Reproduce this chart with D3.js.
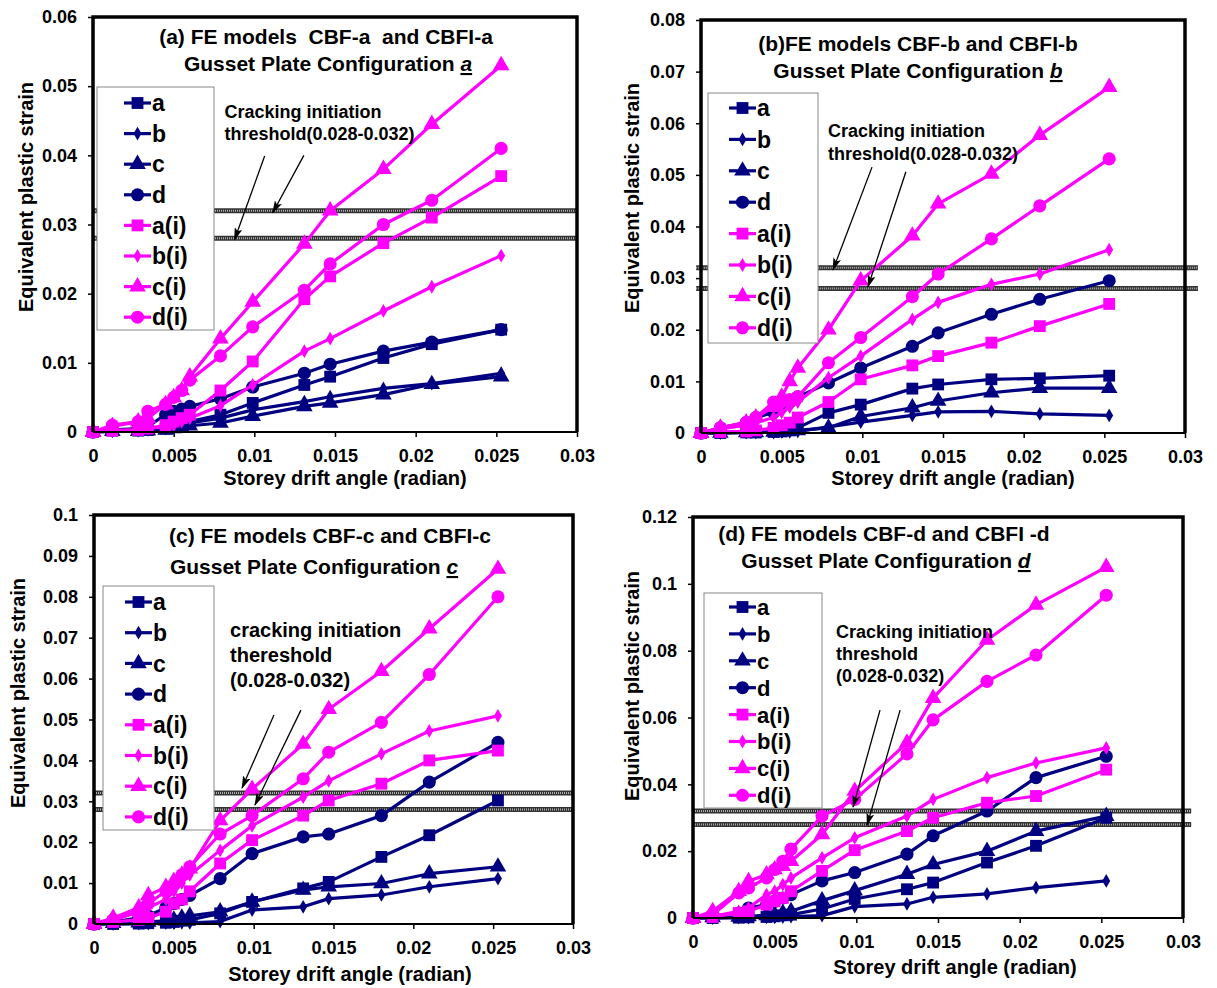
<!DOCTYPE html>
<html>
<head>
<meta charset="utf-8">
<title>Equivalent plastic strain vs storey drift angle</title>
<script src="https://d3js.org/d3.v7.min.js"></script>
<style>
  body { margin: 0; background: #fff; }
  svg { display: block; font-family: Arial, "Liberation Sans", sans-serif; }
</style>
</head>
<body>
<svg id="chart" width="1217" height="988"></svg>
<script>
// storey drift angles (radian) shared by every series
const driftAngles = [0, 0.0012, 0.0028, 0.0034, 0.0045, 0.005, 0.0055, 0.006, 0.0079, 0.0099, 0.0131, 0.0147, 0.018, 0.021, 0.0253];
const seriesNames = ["a", "b", "c", "d", "a(i)", "b(i)", "c(i)", "d(i)"];
const xTicks = [0, 0.005, 0.01, 0.015, 0.02, 0.025, 0.03];
const yTicksA = [0, 0.01, 0.02, 0.03, 0.04, 0.05, 0.06];
const yTicksB = [0, 0.01, 0.02, 0.03, 0.04, 0.05, 0.06, 0.07, 0.08];
const yTicksC = [0, 0.01, 0.02, 0.03, 0.04, 0.05, 0.06, 0.07, 0.08, 0.09, 0.1];
const yTicksD = [0, 0.02, 0.04, 0.06, 0.08, 0.1, 0.12];
const thresholds = [0.028, 0.032];

// equivalent plastic strain, one row per series (a, b, c, d, a(i), b(i), c(i), d(i))
const valuesA = [
  [0, 0.0002, 0.0002, 0.0003, 0.0005, 0.0008, 0.001, 0.0015, 0.0025, 0.0042, 0.0068, 0.008, 0.0107, 0.0127, 0.0148],
  [0, 0.0001, 0.0002, 0.0003, 0.0005, 0.0007, 0.001, 0.0013, 0.002, 0.0032, 0.0044, 0.0051, 0.0063, 0.007, 0.0085],
  [0, 0.0001, 0.0001, 0.0002, 0.0003, 0.0005, 0.0006, 0.0009, 0.0013, 0.0023, 0.0037, 0.0042, 0.0054, 0.0069, 0.008],
  [0, 0.0003, 0.0005, 0.0008, 0.0025, 0.003, 0.0033, 0.0037, 0.0048, 0.0065, 0.0085, 0.0098, 0.0117, 0.013, 0.0148],
  [0, 0.0002, 0.0003, 0.0005, 0.001, 0.0015, 0.002, 0.0025, 0.006, 0.0102, 0.0192, 0.0225, 0.0273, 0.031, 0.037],
  [0, 0.0002, 0.0003, 0.0005, 0.0008, 0.001, 0.0015, 0.002, 0.0038, 0.0068, 0.0117, 0.0135, 0.0175, 0.021, 0.0255],
  [0, 0.0008, 0.0015, 0.002, 0.004, 0.005, 0.006, 0.008, 0.0135, 0.0188, 0.0272, 0.032, 0.038, 0.0445, 0.053],
  [0, 0.001, 0.0015, 0.003, 0.004, 0.005, 0.006, 0.0075, 0.011, 0.0152, 0.0205, 0.0243, 0.03, 0.0335, 0.041]
];
const valuesB = [
  [0, 0, 0.0001, 0.0001, 0.0002, 0.0003, 0.0005, 0.001, 0.0039, 0.0055, 0.0086, 0.0094, 0.0104, 0.0106, 0.0111],
  [0, 0, 0.0001, 0.0001, 0.0001, 0.0002, 0.0002, 0.0003, 0.0012, 0.0021, 0.0034, 0.0041, 0.0042, 0.0037, 0.0034],
  [0, 0, 0.0001, 0.0001, 0.0002, 0.0003, 0.0004, 0.0005, 0.001, 0.0032, 0.0049, 0.0062, 0.0078, 0.0087, 0.0087],
  [0, 0.001, 0.002, 0.003, 0.004, 0.005, 0.006, 0.007, 0.0097, 0.0126, 0.0168, 0.0194, 0.023, 0.0259, 0.0295],
  [0, 0.0002, 0.0003, 0.0005, 0.001, 0.0015, 0.002, 0.003, 0.006, 0.0104, 0.0131, 0.0149, 0.0175, 0.0207, 0.025],
  [0, 0.0008, 0.0015, 0.002, 0.003, 0.004, 0.005, 0.006, 0.0107, 0.0149, 0.022, 0.0253, 0.0288, 0.0308, 0.0355],
  [0, 0.001, 0.002, 0.003, 0.005, 0.007, 0.01, 0.0126, 0.02, 0.0295, 0.0382, 0.0444, 0.0502, 0.0577, 0.067],
  [0, 0.001, 0.002, 0.003, 0.006, 0.006, 0.0065, 0.007, 0.0136, 0.0185, 0.0264, 0.0308, 0.0376, 0.044, 0.0531]
];
const valuesC = [
  [0, 0, 0.0001, 0.0002, 0.0003, 0.0005, 0.0008, 0.001, 0.0026, 0.0054, 0.0087, 0.0103, 0.0164, 0.0217, 0.0302],
  [0, 0, 0.0001, 0.0001, 0.0002, 0.0002, 0.0003, 0.0003, 0.0006, 0.0034, 0.0042, 0.0062, 0.0071, 0.0091, 0.0111],
  [0, 0.0002, 0.0003, 0.0005, 0.0008, 0.001, 0.0015, 0.002, 0.003, 0.0054, 0.0083, 0.0091, 0.0099, 0.0123, 0.014],
  [0, 0.0005, 0.0015, 0.002, 0.004, 0.005, 0.006, 0.007, 0.0111, 0.0172, 0.0213, 0.022, 0.0265, 0.0347, 0.0444],
  [0, 0.0005, 0.001, 0.0015, 0.003, 0.005, 0.006, 0.008, 0.0148, 0.0205, 0.0265, 0.0302, 0.0343, 0.04, 0.0424],
  [0, 0.001, 0.003, 0.004, 0.006, 0.008, 0.01, 0.012, 0.018, 0.024, 0.031, 0.035, 0.0416, 0.0472, 0.0509],
  [0, 0.0015, 0.004, 0.007, 0.009, 0.0105, 0.012, 0.0135, 0.0253, 0.033, 0.044, 0.0525, 0.0618, 0.0722, 0.0868],
  [0, 0.001, 0.003, 0.005, 0.008, 0.0095, 0.012, 0.014, 0.022, 0.0265, 0.0355, 0.042, 0.0493, 0.061, 0.08]
];
const valuesD = [
  [0, 0, 0.0001, 0.0002, 0.0003, 0.0005, 0.0008, 0.001, 0.0027, 0.0057, 0.0086, 0.0106, 0.0166, 0.0216, 0.03],
  [0, 0, 0.0001, 0.0001, 0.0002, 0.0002, 0.0003, 0.0004, 0.0007, 0.0034, 0.0042, 0.0062, 0.0072, 0.0091, 0.0111],
  [0, 0.0002, 0.0003, 0.0005, 0.0008, 0.001, 0.0015, 0.002, 0.0052, 0.0082, 0.0131, 0.016, 0.02, 0.026, 0.0305],
  [0, 0.0005, 0.0015, 0.003, 0.004, 0.005, 0.006, 0.007, 0.0111, 0.0136, 0.0191, 0.0246, 0.032, 0.042, 0.0484],
  [0, 0.0003, 0.0015, 0.002, 0.004, 0.005, 0.006, 0.008, 0.0141, 0.0203, 0.026, 0.03, 0.0345, 0.0365, 0.0444],
  [0, 0.0005, 0.002, 0.003, 0.007, 0.008, 0.01, 0.012, 0.018, 0.024, 0.0305, 0.0355, 0.042, 0.0464, 0.0509],
  [0, 0.002, 0.008, 0.011, 0.013, 0.0145, 0.0155, 0.017, 0.025, 0.038, 0.0524, 0.0658, 0.0832, 0.0937, 0.105],
  [0, 0.001, 0.0075, 0.009, 0.012, 0.0145, 0.017, 0.0206, 0.0305, 0.0355, 0.0491, 0.0593, 0.0708, 0.0787, 0.0966]
];

const NAVY = "#000080", MAGENTA = "#ff00ff";
const colors = [NAVY, NAVY, NAVY, NAVY, MAGENTA, MAGENTA, MAGENTA, MAGENTA];
const shapes = [d3.symbolSquare, d3.symbolDiamond, d3.symbolTriangle, d3.symbolCircle];
const shapeSize = [140, 55, 120, 135];

const panels = [
  { values: valuesA, yTicks: yTicksA, box: { l: 93, r: 577, t: 17, b: 432 },
    title: ["(a) FE models  CBF-a  and CBFI-a", "Gusset Plate Configuration ", "a"], titleX: [326, 328], titleY: [44, 71],
    note: ["Cracking initiation", "threshold(0.028-0.032)"], noteAt: [0.00815, 0.0454], noteStep: 22, noteSize: 18,
    arrows: [[0.01064, 0.0399, 0.00877, 0.0278], [0.01307, 0.040, 0.01114, 0.0317]],
    threshX: [0, 0.03],
    legend: { x: 97, y: 87, w: 117, h: 243, lx: 124, row0: 103, step: 30.6, size: 23 },
    yLabel: [26, 197], xLabel: [345, 485] },
  { values: valuesB, yTicks: yTicksB, box: { l: 701, r: 1185, t: 20, b: 433 },
    title: ["(b)FE models CBF-b and CBFI-b", "Gusset Plate Configuration ", "b"], titleX: [918, 918], titleY: [51, 78],
    note: ["Cracking initiation", "threshold(0.028-0.032)"], noteAt: [0.00787, 0.0573], noteStep: 23, noteSize: 18,
    arrows: [[0.0106, 0.0515, 0.00818, 0.0316], [0.0127, 0.0506, 0.01035, 0.0283]],
    threshX: [-0.0003, 0.0308],
    legend: { x: 708, y: 93, w: 110, h: 250, lx: 729, row0: 108, step: 31.4, size: 23 },
    yLabel: [632, 198], xLabel: [953, 485] },
  { values: valuesC, yTicks: yTicksC, box: { l: 94, r: 573, t: 515, b: 924 },
    title: ["(c) FE models CBF-c and CBFI-c", "Gusset Plate Configuration ", "c"], titleX: [330, 314], titleY: [543, 574],
    note: ["cracking initiation", "thereshold", "(0.028-0.032)"], noteAt: [0.00852, 0.0702], noteStep: 25, noteSize: 20,
    arrows: [[0.01127, 0.0511, 0.00927, 0.03325], [0.01296, 0.0523, 0.01008, 0.0291]],
    threshX: [0, 0.03],
    legend: { x: 103, y: 586, w: 111, h: 244, lx: 125, row0: 602, step: 30.7, size: 23 },
    yLabel: [18, 693], xLabel: [350, 981] },
  { values: valuesD, yTicks: yTicksD, box: { l: 693, r: 1183, t: 517, b: 918 },
    title: ["(d) FE models CBF-d and CBFI -d", "Gusset Plate Configuration ", "d"], titleX: [884, 886], titleY: [541, 568],
    note: ["Cracking initiation", "threshold", "(0.028-0.032)"], noteAt: [0.00876, 0.0838], noteStep: 22, noteSize: 18,
    arrows: [[0.01145, 0.0622, 0.0098, 0.0332], [0.01268, 0.0622, 0.01066, 0.0278]],
    threshX: [0, 0.0305],
    legend: { x: 704, y: 593, w: 118, h: 215, lx: 729, row0: 607, step: 26.9, size: 22 },
    yLabel: [632, 686], xLabel: [955, 974] }
];

const svg = d3.select("#chart");
svg.append("rect").attr("width", 1217).attr("height", 988).attr("fill", "#fff");

svg.append("defs").append("marker")
  .attr("id", "arrowhead")
  .attr("markerUnits", "userSpaceOnUse")
  .attr("markerWidth", 13).attr("markerHeight", 8)
  .attr("refX", 12).attr("refY", 4)
  .attr("orient", "auto")
  .append("path").attr("d", "M0,0 L13,4 L0,8 L3,4 z").attr("fill", "#000");

const fmt = d => d === 0 ? "0" : String(parseFloat(d.toFixed(4)));

panels.forEach(function (p) {
  const g = svg.append("g");
  const x = d3.scaleLinear().domain([0, 0.03]).range([p.box.l, p.box.r]);
  const y = d3.scaleLinear().domain([0, d3.max(p.yTicks)]).range([p.box.b, p.box.t]);

  // axes
  const xAxis = g.append("g").attr("transform", "translate(0," + p.box.b + ")")
    .call(d3.axisBottom(x).tickValues(xTicks).tickFormat(fmt).tickSize(5).tickPadding(14));
  const yAxis = g.append("g").attr("transform", "translate(" + p.box.l + ",0)")
    .call(d3.axisLeft(y).tickValues(p.yTicks).tickFormat(fmt).tickSize(5).tickPadding(11));
  [xAxis, yAxis].forEach(function (a) {
    a.select(".domain").remove();
    a.selectAll(".tick line").attr("stroke", "#000").attr("stroke-width", 1.5);
    a.selectAll(".tick text").attr("fill", "#000").style("font-size", "18px").style("font-weight", "bold")
      .style("font-family", "Arial, 'Liberation Sans', sans-serif");
  });
  xAxis.selectAll(".tick text").attr("dy", "0.6em");

  // threshold band lines
  thresholds.forEach(function (t) {
    g.append("line").attr("x1", x(p.threshX[0])).attr("x2", x(p.threshX[1]))
      .attr("y1", y(t)).attr("y2", y(t)).attr("stroke", "#333").attr("stroke-width", 5);
    g.append("line").attr("x1", x(p.threshX[0])).attr("x2", x(p.threshX[1]))
      .attr("y1", y(t)).attr("y2", y(t)).attr("stroke", "#aaa").attr("stroke-width", 2)
      .attr("stroke-dasharray", "1 1");
  });

  // series lines and markers
  const line = d3.line().x((d, i) => x(driftAngles[i])).y(d => y(d));
  p.values.forEach(function (row, s) {
    g.append("path").datum(row).attr("d", line)
      .attr("fill", "none").attr("stroke", colors[s]).attr("stroke-width", 3.2).attr("stroke-linejoin", "round");
    g.selectAll(null).data(row).enter().append("path")
      .attr("transform", (d, i) => "translate(" + x(driftAngles[i]) + "," + y(d) + ")")
      .attr("d", d3.symbol().type(shapes[s % 4]).size(shapeSize[s % 4]))
      .attr("fill", colors[s]);
  });

  // plot frame
  g.append("line").attr("x1", p.box.l).attr("x2", p.box.r).attr("y1", p.box.b).attr("y2", p.box.b)
    .attr("stroke", "#000").attr("stroke-width", 2);
  g.append("path")
    .attr("d", "M" + p.box.l + "," + p.box.b + "V" + p.box.t + "H" + p.box.r + "V" + p.box.b)
    .attr("fill", "none").attr("stroke", "#000").attr("stroke-width", 3.5);

  // legend
  const L = p.legend;
  g.append("rect").attr("x", L.x).attr("y", L.y).attr("width", L.w).attr("height", L.h)
    .attr("fill", "#fff").attr("stroke", "#888").attr("stroke-width", 1);
  seriesNames.forEach(function (name, s) {
    const ry = L.row0 + s * L.step;
    g.append("line").attr("x1", L.lx).attr("x2", L.lx + 27).attr("y1", ry).attr("y2", ry)
      .attr("stroke", colors[s]).attr("stroke-width", 3.2);
    g.append("path").attr("transform", "translate(" + (L.lx + 13.5) + "," + ry + ")")
      .attr("d", d3.symbol().type(shapes[s % 4]).size(shapeSize[s % 4])).attr("fill", colors[s]);
    g.append("text").attr("x", L.lx + 28).attr("y", ry).attr("dy", "0.36em")
      .style("font-size", L.size + "px").style("font-weight", "bold").text(name);
  });

  // title
  g.append("text").attr("x", p.titleX[0]).attr("y", p.titleY[0]).attr("text-anchor", "middle")
    .style("white-space", "pre").attr("xml:space", "preserve")
    .style("font-size", "21px").style("font-weight", "bold").text(p.title[0]);
  const t2 = g.append("text").attr("x", p.titleX[1]).attr("y", p.titleY[1]).attr("text-anchor", "middle")
    .style("white-space", "pre").attr("xml:space", "preserve")
    .style("font-size", "21px").style("font-weight", "bold");
  t2.append("tspan").text(p.title[1]);
  t2.append("tspan").style("font-style", "italic").style("text-decoration", "underline").text(p.title[2]);

  // threshold note and arrows
  p.note.forEach(function (txt, k) {
    g.append("text").attr("x", x(p.noteAt[0])).attr("y", y(p.noteAt[1]) + k * p.noteStep)
      .style("font-size", p.noteSize + "px").style("font-weight", "bold").text(txt);
  });
  p.arrows.forEach(function (a) {
    g.append("line").attr("x1", x(a[0])).attr("y1", y(a[1])).attr("x2", x(a[2])).attr("y2", y(a[3]))
      .attr("stroke", "#000").attr("stroke-width", 1.3).attr("marker-end", "url(#arrowhead)");
  });

  // axis titles
  g.append("text").attr("transform", "translate(" + p.yLabel[0] + "," + p.yLabel[1] + ") rotate(-90)")
    .attr("text-anchor", "middle").attr("dy", "0.35em")
    .style("font-size", "20px").style("font-weight", "bold").text("Equivalent plastic strain");
  g.append("text").attr("x", p.xLabel[0]).attr("y", p.xLabel[1]).attr("text-anchor", "middle")
    .style("font-size", "20px").style("font-weight", "bold").text("Storey drift angle (radian)");
});
</script>
</body>
</html>
